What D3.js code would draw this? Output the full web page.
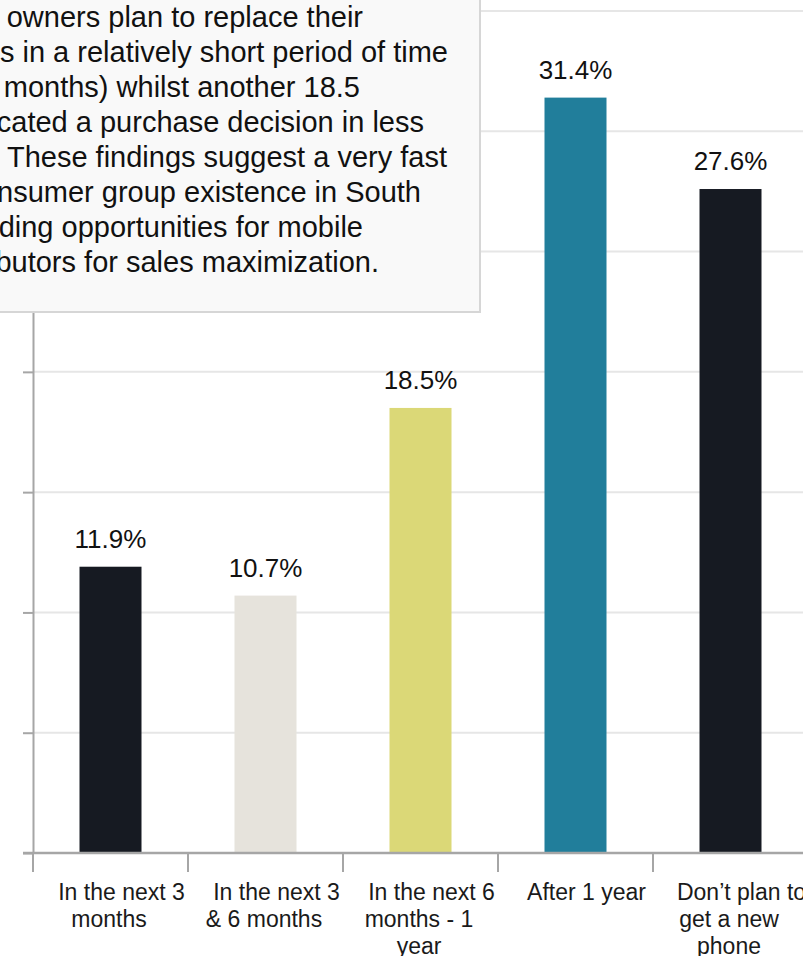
<!DOCTYPE html>
<html>
<head>
<meta charset="utf-8">
<script src="https://cdn.jsdelivr.net/npm/d3@7"></script>
<style>
  body { margin: 0; background: #ffffff; }
  svg { display: block; font-family: "Liberation Sans", Arial, Helvetica, sans-serif; }
</style>
</head>
<body>
<svg id="chart" width="803" height="956"></svg>
<script>
// Purchase intention: when owners plan to get a new phone (% of respondents)
const categories = [
  "In the next 3 months",
  "In the next 3 & 6 months",
  "In the next 6 months - 1 year",
  "After 1 year",
  "Don’t plan to get a new phone"
];
const values = [11.9, 10.7, 18.5, 31.4, 27.6];
const yTicks = [0, 5, 10, 15, 20, 25, 30, 35];
const noteLines = [
  "Many phone owners plan to replace their",
  "phones in a relatively short period of time",
  "(within 6 months) whilst another 18.5",
  "percent indicated a purchase decision in less",
  "than a year. These findings suggest a very fast",
  "growing consumer group existence in South",
  "Africa, providing opportunities for mobile",
  "phone distributors for sales maximization."
];

// styling
const barColors = ["#161a22", "#e6e3dc", "#dbd877", "#217e9b", "#161a22"];
const axisColor = "#a6a6a6";
const gridColor = "#e6e6e6";

const svg = d3.select("#chart");
const W = 803;
const plot = { left: 33, right: 808, top: 11, bottom: 853 };

const x = d3.scaleBand()
  .domain(categories)
  .range([plot.left, plot.right])
  .paddingInner(0.6)
  .paddingOuter(0.3);

const y = d3.scaleLinear()
  .domain([0, 35])
  .range([plot.bottom, plot.top]);

// horizontal gridlines
svg.append("g")
  .selectAll("line")
  .data(yTicks.filter(t => t > 0))
  .join("line")
  .attr("x1", plot.left).attr("x2", W)
  .attr("y1", d => y(d)).attr("y2", d => y(d))
  .attr("stroke", gridColor)
  .attr("stroke-width", 2);

// bars
const rows = categories.map((c, i) => ({ cat: c, value: values[i], color: barColors[i] }));
svg.append("g")
  .selectAll("rect")
  .data(rows)
  .join("rect")
  .attr("x", d => x(d.cat))
  .attr("width", x.bandwidth())
  .attr("y", d => y(d.value))
  .attr("height", d => y(0) - y(d.value))
  .attr("fill", d => d.color);

// value labels
svg.append("g")
  .selectAll("text")
  .data(rows)
  .join("text")
  .attr("x", d => x(d.cat) + x.bandwidth() / 2)
  .attr("y", d => y(d.value) - 19)
  .attr("text-anchor", "middle")
  .attr("font-size", 26)
  .attr("fill", "#111111")
  .text(d => d.value.toFixed(1) + "%");

// y axis (tick labels sit outside the visible area)
const yAxis = svg.append("g")
  .attr("transform", `translate(${plot.left},0)`)
  .call(d3.axisLeft(y).tickValues(yTicks).tickSize(10).tickSizeOuter(0).tickFormat(""));
yAxis.selectAll("path, line").attr("stroke", axisColor).attr("stroke-width", 2);

// x axis: baseline, category boundary ticks, wrapped labels
const xAxisG = svg.append("g").attr("transform", `translate(0,${plot.bottom})`);
xAxisG.append("line")
  .attr("x1", plot.left - 10).attr("x2", W)
  .attr("y1", 0).attr("y2", 0)
  .attr("stroke", axisColor).attr("stroke-width", 2.5);

const gap = (x.step() - x.bandwidth()) / 2;
const edges = categories.map(c => x(c) - gap).concat([x(categories[categories.length - 1]) + x.bandwidth() + gap]);
xAxisG.append("g")
  .selectAll("line")
  .data(edges)
  .join("line")
  .attr("x1", d => d).attr("x2", d => d)
  .attr("y1", 0).attr("y2", 19)
  .attr("stroke", axisColor).attr("stroke-width", 2);

const labelAxis = xAxisG.append("g")
  .call(d3.axisBottom(x).tickSize(0).tickSizeOuter(0));
labelAxis.select(".domain").remove();

// measure helper for wrapping
const measurer = svg.append("text").attr("font-size", 23).attr("visibility", "hidden");
function textWidth(s) {
  measurer.text(s);
  return measurer.node().getComputedTextLength();
}
function wrapWords(s, maxW) {
  const words = s.split(/\s+/);
  const lines = [];
  let cur = "";
  words.forEach(w => {
    const test = cur ? cur + " " + w : w;
    if (cur && textWidth(test) > maxW) { lines.push(cur); cur = w; }
    else cur = test;
  });
  if (cur) lines.push(cur);
  return lines;
}

labelAxis.selectAll(".tick text").each(function(d) {
  const t = d3.select(this);
  const lines = wrapWords(d, 145);
  t.text(null)
    .attr("y", 47)
    .attr("dy", null)
    .attr("font-size", 23)
    .attr("font-family", "Liberation Sans, Arial, sans-serif")
    .attr("fill", "#1a1a1a");
  lines.forEach((ln, i) => {
    t.append("tspan")
      .attr("x", i === 0 ? 11 : -1.5)
      .attr("dy", i === 0 ? 0 : 27)
      .text(ln);
  });
});
measurer.remove();

// annotation box
const noteRight = [363, 448, 360, 424, 447, 421, 363, 379];
const note = svg.append("g");
note.append("rect")
  .attr("x", -60).attr("y", -60)
  .attr("width", 540).attr("height", 372)
  .attr("fill", "#f9f9f9")
  .attr("stroke", "#d6d6d6")
  .attr("stroke-width", 2);
note.append("g")
  .selectAll("text")
  .data(noteLines)
  .join("text")
  .attr("x", (d, i) => noteRight[i])
  .attr("y", (d, i) => 27 + i * 35)
  .attr("text-anchor", "end")
  .attr("font-size", 29)
  .attr("fill", "#111111")
  .text(d => d);
</script>
</body>
</html>
